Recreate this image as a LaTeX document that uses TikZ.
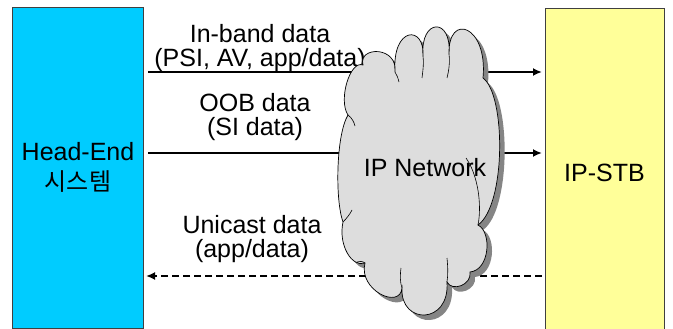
\documentclass[tikz,border=0pt]{standalone}
\usepackage{fontspec}
\setmainfont{Liberation Sans}
\newfontfamily\krfont{Noto Sans CJK KR}
\usetikzlibrary{arrows.meta}
\definecolor{heblue}{HTML}{00CCFF}
\definecolor{stbyellow}{HTML}{FFFF99}
\definecolor{cloudgray}{HTML}{DDDDDD}
\definecolor{shadowgray}{HTML}{858585}
\definecolor{boxline}{HTML}{404040}
\newcommand\netcloudoutline{%
  (363,65) .. controls (358,46) and (398,46) .. (395,72)
  .. controls (392,26) and (425,25) .. (423,56)
  .. controls (420,18) and (452,17) .. (449,54)
  .. controls (448,12) and (488,25) .. (483,78)
  .. controls (506,95) and (506,205) .. (478,225)
  .. controls (492,232) and (490,270) .. (470,272)
  .. controls (472,285) and (452,292) .. (447,282)
  .. controls (450,325) and (400,325) .. (402,288)
  .. controls (400,310) and (358,290) .. (365,263)
  .. controls (352,268) and (338,245) .. (343,222)
  .. controls (335,200) and (336,135) .. (348,115)
  .. controls (338,100) and (350,60) .. (363,65) -- cycle}
\begin{document}
\begin{tikzpicture}[x=1pt,y=-1pt,
  every node/.style={font=\fontsize{25}{24}\selectfont, inner sep=0pt},
  sysbox/.style={draw=boxline, line width=0.8pt},
  datalink/.style={line width=1.8pt, -{Latex[length=9pt,width=8pt]}},
  returnlink/.style={datalink, dash pattern=on 7pt off 4pt},
  lbl/.style={align=center}]
\useasboundingbox (0,0) rectangle (673,329);
% end systems
\draw[sysbox, fill=heblue] (12,7) rectangle (143,328);
\draw[sysbox, fill=stbyellow] (545,8) rectangle (664,332);
\node (he) at (78,167) [lbl] {Head-End\\[6pt]{\krfont\fontsize{24}{24}\selectfont 시스템}};
\node (stb) at (604.5,173) {IP-STB};
% link end points
\coordinate (ibS) at (148,72);  \coordinate (ibE) at (542,72);
\coordinate (oobS) at (148,153); \coordinate (oobE) at (542,153);
\coordinate (ucS) at (542,276); \coordinate (ucE) at (146,276);
\draw[datalink] (ibS) -- (ibE);
\draw[datalink] (oobS) -- (oobE);
\draw[returnlink] (ucS) -- (ucE);
% link labels
\node (iblbl) at (260,48) [lbl] {In-band data\\(PSI, AV, app/data)};
\node (ooblbl) at (255,117) [lbl] {OOB data\\(SI data)};
\node (uclbl) at (252,239) [lbl] {Unicast data\\(app/data)};
% network cloud with drop shadow
\fill[shadowgray, shift={(5,5)}] \netcloudoutline;
\draw[fill=cloudgray, line width=0.7pt] \netcloudoutline;
\begin{scope}[line width=0.6pt]
  \draw (423,56) .. controls (424,62) and (423,70) .. (422,78);
  \draw (449,54) .. controls (450,62) and (449,70) .. (447,78);
  \draw (395,72) .. controls (397,75) and (398,78) .. (399,82);
  \draw (402,288) .. controls (400,282) and (400,276) .. (401,268);
  \draw (447,282) .. controls (448,275) and (448,268) .. (447,258);
  \draw (365,263) .. controls (362,261) and (360,261) .. (357,262);
  \draw (466,158) .. controls (478,175) and (482,205) .. (478,225);
  \draw (348,115) .. controls (352,118) and (354,122) .. (355,126);
  \draw (343,222) .. controls (347,218) and (350,214) .. (352,210);
\end{scope}
\node (net) at (425,168) {IP Network};
\end{tikzpicture}
\end{document}
